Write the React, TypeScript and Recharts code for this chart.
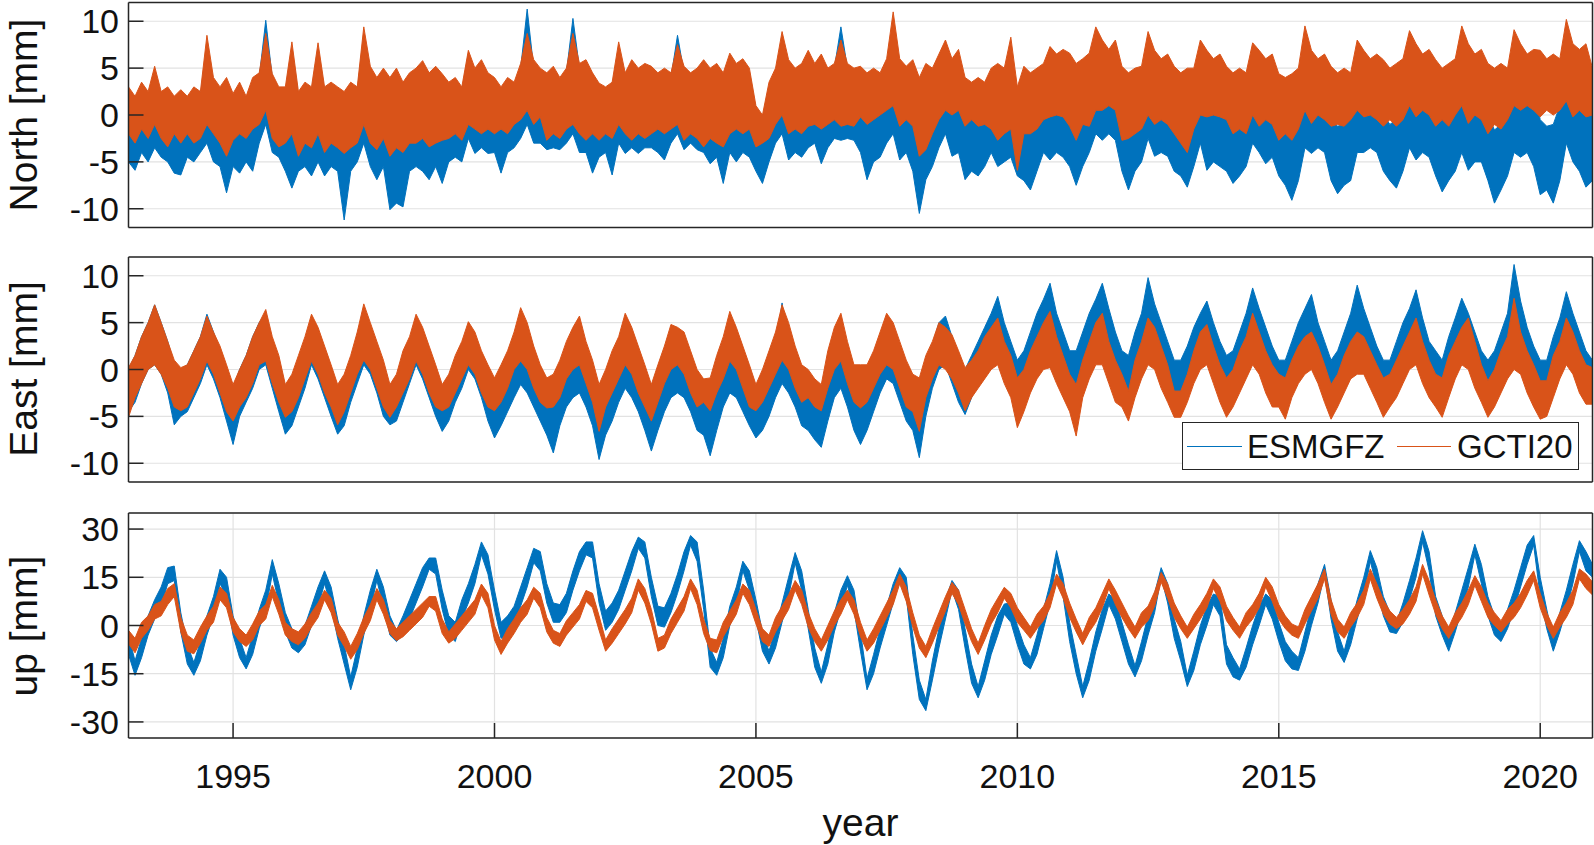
import React from 'react';
import { ComposedChart, Area, XAxis, YAxis, CartesianGrid } from 'recharts';

// ---------- data: upper / lower edge of each noisy daily band, read every 1/8 year, 1993.0 .. 2021.0 ----------
const START_YEAR = 1993;
const STEP = 1 / 8;

const xTicks = [1995, 2000, 2005, 2010, 2015, 2020];
const northTicks = [-10, -5, 0, 5, 10];
const eastTicks = [-10, -5, 0, 5, 10];
const upTicks = [-30, -15, 0, 15, 30];

const seriesNames = ['ESMGFZ', 'GCTI20'];

// ---- North ----
const northGCTI20Hi = [
  3.0, 2.0, 3.5, 2.5, 5.2, 2.5, 3.0, 2.0,
  2.7, 2.0, 3.0, 2.5, 8.5, 4.0, 3.0, 4.0,
  2.3, 3.5, 2.0, 4.0, 4.5, 8.7, 4.4, 3.0,
  3.0, 7.8, 2.5, 3.5, 3.0, 7.7, 3.0, 3.5,
  3.0, 2.5, 3.5, 3.0, 9.4, 5.2, 4.0, 5.0,
  4.0, 5.0, 3.5, 4.5, 5.0, 5.8, 4.5, 5.2,
  4.4, 3.5, 4.0, 3.0, 6.9, 5.0, 5.9, 4.5,
  4.0, 3.0, 4.0, 3.5, 5.5, 8.7, 5.9, 5.0,
  4.5, 5.2, 4.0, 5.0, 8.7, 5.5, 5.9, 4.5,
  3.4, 3.0, 3.5, 7.8, 4.5, 5.9, 5.0, 5.5,
  5.2, 4.5, 5.0, 4.5, 7.5, 5.2, 4.5, 5.0,
  5.9, 5.0, 5.5, 4.5, 6.6, 5.5, 6.0, 5.0,
  1.0, 0.0, 3.5, 5.0, 8.9, 5.9, 5.0, 5.5,
  6.9, 5.5, 6.5, 5.0, 5.5, 8.0, 5.5, 5.0,
  5.2, 4.5, 5.0, 4.5, 6.0, 11.0, 6.0, 5.2,
  5.9, 4.0, 5.5, 5.0, 6.5, 8.0, 6.0, 7.0,
  4.0, 3.5, 4.0, 3.5, 5.0, 5.5, 5.0, 8.3,
  3.0, 5.2, 4.5, 5.0, 5.5, 7.3, 6.5, 7.0,
  6.6, 5.5, 6.0, 6.6, 9.4, 8.0, 7.0, 8.0,
  5.2, 4.5, 5.0, 5.2, 8.9, 6.9, 6.0, 6.5,
  5.2, 4.5, 5.0, 5.0, 8.0, 6.9, 6.0, 6.5,
  5.2, 4.5, 5.0, 4.5, 7.7, 6.9, 6.0, 6.5,
  4.4, 4.0, 4.4, 5.0, 9.5, 6.9, 6.0, 6.5,
  5.2, 4.5, 5.0, 4.5, 8.0, 6.9, 6.0, 6.5,
  5.9, 5.0, 5.5, 6.0, 9.0, 7.6, 6.5, 7.0,
  5.9, 5.0, 5.5, 6.0, 9.5, 7.6, 6.5, 7.0,
  5.5, 5.0, 5.5, 5.0, 9.1, 7.6, 6.5, 7.0,
  6.9, 6.0, 6.5, 6.0, 10.2, 7.6, 7.0, 7.6,
  5.0,
];
const northGCTI20Lo = [
  -2.0, -3.0, -1.5, -2.5, -1.0, -2.5, -3.4, -2.0,
  -3.0, -2.0, -3.0, -2.5, -1.0, -2.0, -3.0, -4.4,
  -2.7, -2.0, -2.5, -1.5, -1.0, 0.5, -2.5, -3.4,
  -3.0, -2.0, -4.4, -3.0, -3.5, -2.0, -4.0, -3.0,
  -3.5, -4.1, -3.5, -3.0, -1.0, -3.0, -3.7, -2.5,
  -4.4, -3.5, -4.0, -3.0, -3.0, -2.5, -3.4, -3.0,
  -2.7, -2.5, -2.0, -2.7, -1.0, -1.5, -2.0, -1.5,
  -2.0, -1.5, -2.0, -1.0, -0.5, 0.5, -1.0, -0.2,
  -2.7, -2.0, -2.5, -1.5, -1.0, -2.0, -2.7, -2.0,
  -2.7, -2.0, -2.5, -1.0, -2.0, -2.7, -2.0, -2.5,
  -2.0, -1.5, -2.0, -1.5, -1.0, -2.7, -2.0, -2.5,
  -3.4, -2.5, -3.0, -3.4, -2.0, -1.5, -2.0, -1.5,
  -3.4, -3.0, -2.5, -1.0, 0.0, -2.0, -1.5, -2.0,
  -1.2, -1.0, -1.5, -1.0, -0.5, -1.2, -1.0, -1.2,
  -0.2, -1.0, -0.5, 0.0, 0.5, 1.0, -1.2, -0.5,
  -1.2, -4.4, -3.7, -2.0, -0.5, 0.5, 0.0, 0.5,
  -1.2, -0.5, -1.2, -1.0, -1.5, -2.7, -2.0, -1.5,
  -5.9, -2.0, -2.0, -1.5, -0.5, -0.2, 0.0, -0.2,
  -1.2, -2.7, -1.0, -1.2, 0.5, 0.5, 1.0, 0.5,
  -2.7, -2.5, -2.0, -1.5, 0.0, -1.0, -0.5, -1.0,
  -2.0, -3.0, -4.0, -1.5, 0.0, -0.2, 0.0, -0.2,
  -0.5, -2.0, -1.5, -2.0, 0.0, -1.2, -0.5, -1.0,
  -2.7, -2.0, -2.7, -1.5, 0.5, -0.9, 0.0, -0.5,
  -1.2, -1.0, -1.2, -0.5, 0.5, -0.2, 0.0, -0.5,
  -1.2, -0.5, -1.2, -0.5, 1.0, -0.2, 0.5, 0.0,
  -1.2, -0.5, -1.2, 0.0, 1.0, -0.9, 0.0, -0.5,
  -2.0, -1.0, -1.5, -0.5, 1.0, 0.5, 1.0, 0.5,
  -0.2, 0.5, 0.0, 0.5, 1.5, -0.2, 0.5, -0.2,
  0.0,
];
const northESMGFZHi = [
  2.5, 1.5, 3.0, 2.0, 4.5, 2.0, 2.5, 1.5,
  2.0, 1.5, 2.5, 2.0, 7.3, 3.5, 2.5, 3.0,
  2.0, 3.0, 1.5, 3.5, 4.0, 10.1, 4.0, 2.5,
  2.5, 7.0, 2.0, 3.0, 2.5, 7.0, 2.5, 3.0,
  2.5, 2.0, 3.0, 2.5, 8.5, 4.5, 3.5, 4.5,
  3.5, 4.5, 3.0, 4.0, 4.5, 5.0, 4.0, 4.5,
  4.0, 3.0, 3.5, 2.5, 6.5, 4.5, 5.5, 4.0,
  3.5, 2.5, 3.5, 3.0, 5.0, 11.3, 5.0, 4.5,
  4.0, 4.5, 3.5, 4.5, 10.3, 5.0, 5.0, 4.0,
  3.0, 2.5, 3.0, 7.0, 4.0, 5.0, 4.5, 5.0,
  4.5, 4.0, 4.5, 4.0, 8.5, 4.5, 4.0, 4.5,
  5.0, 4.5, 5.0, 4.0, 6.0, 5.0, 5.5, 4.5,
  0.5, -0.5, 3.0, 4.5, 8.0, 5.0, 4.5, 5.0,
  6.0, 5.0, 6.0, 4.5, 5.0, 9.4, 5.0, 4.5,
  3.0, 1.5, 2.0, 2.5, 4.0, 5.5, 3.0, 1.6,
  1.0, -0.2, 0.0, 1.5, 3.0, 4.6, 3.0, 2.5,
  0.5, -0.2, 0.0, -0.5, 1.5, 2.3, 2.0, 3.5,
  -1.0, -1.2, -0.5, 0.5, 2.5, 3.7, 3.0, 3.0,
  0.0, 0.5, 1.0, 2.0, 6.2, 6.0, 5.0, 4.5,
  1.0, 0.0, 0.5, 2.0, 5.2, 2.3, 2.0, 2.0,
  0.5, 0.0, 0.5, 1.5, 5.0, 3.4, 3.0, 3.0,
  0.5, 0.0, 0.5, 1.0, 3.7, 3.4, 2.5, 2.0,
  -1.0, -1.6, -1.0, 0.5, 4.0, 4.1, 3.0, 2.5,
  -0.5, -1.2, -1.0, 0.5, 4.1, 4.0, 3.0, 2.5,
  0.0, -1.0, -0.5, 1.0, 3.9, 3.9, 3.0, 2.5,
  0.5, -0.5, 0.0, 1.5, 4.5, 4.0, 3.0, 2.5,
  0.0, -1.6, -1.0, 1.0, 4.8, 4.8, 3.5, 3.0,
  -0.5, -1.2, -1.0, 1.0, 6.6, 4.0, 3.0, 2.5,
  1.0,
];
const northESMGFZLo = [
  -5.0, -5.9, -4.0, -5.0, -3.5, -4.5, -5.0, -6.2,
  -6.4, -4.5, -5.0, -4.0, -3.0, -5.0, -5.5, -8.3,
  -5.5, -6.2, -5.0, -6.0, -3.0, -1.0, -4.0, -4.5,
  -6.0, -7.8, -6.0, -5.5, -6.5, -5.0, -6.5, -5.5,
  -6.0, -11.2, -6.0, -5.0, -3.0, -5.5, -6.9, -5.5,
  -10.1, -9.4, -9.8, -6.0, -5.5, -6.0, -6.9, -5.5,
  -7.3, -5.0, -4.5, -5.0, -2.5, -4.1, -3.5, -4.1,
  -4.0, -6.2, -4.0, -3.5, -2.5, -1.0, -3.0, -3.0,
  -3.7, -3.5, -3.7, -3.0, -2.0, -4.0, -4.0, -6.2,
  -4.5, -4.0, -6.4, -3.0, -4.1, -3.5, -4.1, -3.5,
  -3.5, -4.0, -4.8, -3.0, -2.0, -3.7, -3.0, -3.7,
  -4.0, -5.2, -4.5, -7.3, -4.0, -5.0, -4.0, -4.5,
  -6.0, -7.3, -5.0, -3.0, -2.0, -4.8, -4.0, -4.5,
  -3.5, -3.0, -5.2, -3.5, -2.5, -2.7, -2.5, -2.7,
  -4.0, -6.9, -5.0, -4.5, -3.0, -2.0, -4.8, -4.0,
  -6.0, -10.5, -6.9, -5.5, -3.5, -2.0, -4.4, -4.0,
  -6.9, -6.0, -6.5, -5.5, -4.0, -5.5, -5.0, -4.5,
  -6.5, -7.0, -8.0, -6.0, -4.0, -4.8, -4.0, -4.5,
  -5.5, -7.5, -5.5, -4.0, -2.0, -2.7, -2.0, -2.7,
  -6.0, -8.0, -6.0, -5.0, -2.5, -4.4, -4.0, -4.4,
  -6.0, -6.5, -7.7, -5.5, -3.0, -5.9, -5.0, -5.5,
  -6.0, -7.3, -6.5, -5.5, -3.0, -4.0, -5.2, -4.5,
  -6.5, -7.5, -9.1, -7.0, -3.5, -4.1, -3.5, -4.0,
  -7.0, -8.4, -7.5, -7.0, -4.0, -4.0, -3.5, -4.0,
  -6.0, -7.0, -7.8, -6.0, -3.5, -4.8, -4.0, -4.5,
  -6.5, -8.2, -7.0, -6.0, -4.0, -5.9, -5.0, -5.0,
  -7.0, -9.4, -8.0, -6.5, -4.0, -4.5, -4.0, -5.5,
  -8.5, -8.0, -9.4, -7.0, -3.0, -5.0, -6.0, -7.7,
  -7.0,
];

// ---- East ----
const eastGCTI20Hi = [
  0.2, 1.5, 3.5, 5.0, 6.9, 5.0, 3.0, 1.0,
  0.2, 0.5, 2.0, 3.5, 5.7, 4.0, 2.5, 0.5,
  -1.6, 0.0, 1.5, 3.5, 5.0, 6.4, 3.5, 1.5,
  -1.6, -0.5, 1.5, 3.5, 5.9, 4.5, 2.5, 0.5,
  -1.6, -0.5, 1.5, 4.0, 7.0, 5.0, 3.0, 1.0,
  -1.6, -0.5, 2.0, 3.5, 5.9, 4.5, 2.5, 0.5,
  -1.6, -0.5, 1.5, 3.0, 5.1, 4.0, 2.0, 0.5,
  -0.9, 0.5, 2.0, 4.0, 6.6, 5.0, 2.5, 0.5,
  -0.9, -0.5, 1.0, 3.0, 4.5, 5.7, 3.0, 1.0,
  -1.6, 0.0, 2.0, 3.5, 6.0, 4.5, 2.5, 0.5,
  -1.6, 0.5, 2.5, 4.8, 4.5, 4.0, 2.0, 0.0,
  -1.0, -0.9, 1.5, 3.5, 6.2, 4.5, 2.5, 0.5,
  -1.6, 0.0, 2.0, 4.0, 6.9, 5.0, 2.5, 0.5,
  0.0, -1.0, -1.6, 2.0, 4.5, 6.0, 3.0, 0.5,
  0.5, 0.5, 2.0, 4.0, 6.0, 5.0, 3.0, 1.0,
  -0.5, -0.9, 1.5, 3.0, 5.0, 4.5, 3.7, 2.0,
  0.2, 1.0, 2.0, 3.5, 4.5, 5.5, 3.0, 1.5,
  -0.9, 0.0, 2.0, 3.5, 5.0, 6.2, 3.5, 1.5,
  -0.5, -1.6, 1.0, 3.0, 5.0, 6.0, 3.0, 1.0,
  -0.5, -2.3, 1.0, 3.0, 5.5, 4.5, 2.5, 0.5,
  -2.3, -2.3, -0.5, 2.0, 4.0, 4.8, 2.5, 0.5,
  -0.9, 0.0, 2.0, 3.5, 6.0, 4.0, 2.0, 0.5,
  -0.5, -0.9, 1.0, 2.5, 3.5, 4.0, 2.5, 0.5,
  -1.6, -0.5, 1.5, 3.0, 4.0, 3.5, 2.0, 0.5,
  -0.9, -0.5, 1.0, 2.5, 4.0, 5.5, 3.0, 1.0,
  -0.5, -0.9, 1.5, 3.0, 4.5, 5.5, 3.0, 0.5,
  -1.2, 0.0, 2.0, 3.5, 7.6, 4.0, 2.0, 0.5,
  -1.2, -1.2, 1.5, 3.0, 5.5, 4.0, 2.0, 0.5,
  0.2,
];
const eastGCTI20Lo = [
  -5.1, -3.0, -1.5, 0.0, 0.5, -0.5, -2.0, -4.0,
  -4.4, -4.0, -2.5, -1.0, 0.9, -0.5, -2.5, -4.5,
  -5.5, -4.0, -3.0, -1.5, 0.5, 0.9, -1.5, -3.5,
  -5.1, -4.5, -3.0, -1.0, 0.9, -0.5, -2.5, -4.0,
  -5.9, -4.5, -2.5, -0.5, 1.0, 0.0, -2.0, -4.0,
  -5.1, -4.0, -2.5, -1.0, 0.9, -0.5, -2.5, -4.0,
  -4.4, -4.0, -2.5, -1.0, 0.5, -0.5, -2.5, -4.0,
  -4.4, -3.5, -2.0, 0.0, 0.9, 0.0, -2.0, -3.5,
  -4.1, -4.0, -3.0, -1.0, 0.0, 0.5, -1.5, -3.5,
  -6.6, -4.0, -2.5, -1.0, 0.5, -0.5, -2.5, -4.0,
  -5.5, -3.5, -1.5, 0.0, 0.5, -0.5, -2.5, -4.0,
  -3.5, -4.4, -2.5, -1.0, 0.9, 0.0, -2.0, -4.0,
  -4.4, -3.5, -2.0, -0.5, 1.0, 0.0, -2.0, -3.5,
  -3.0, -4.0, -4.4, -2.0, 0.0, 0.9, -1.5, -3.5,
  -4.1, -3.5, -2.0, -0.5, 0.5, 0.0, -2.0, -4.0,
  -4.5, -6.6, -3.0, -1.0, 0.5, 0.0, -1.0, -2.5,
  -4.4, -3.0, -2.0, -1.0, 0.0, 0.5, -1.5, -3.0,
  -6.2, -4.5, -2.5, -1.0, 0.0, 0.2, -1.5, -3.0,
  -4.5, -7.1, -3.0, -1.0, 0.5, 0.5, -1.5, -3.5,
  -4.0, -5.5, -3.0, -1.0, 0.5, 0.0, -2.0, -3.5,
  -5.1, -5.1, -3.5, -1.5, 0.0, 0.5, -1.5, -3.5,
  -5.1, -4.0, -2.5, -1.0, 0.5, -0.5, -2.5, -4.0,
  -4.0, -5.3, -3.0, -1.5, -0.5, 0.0, -1.5, -3.5,
  -5.3, -4.0, -2.5, -1.0, -0.5, -0.5, -2.0, -3.5,
  -5.1, -4.0, -3.0, -1.5, 0.0, 0.5, -1.5, -3.0,
  -4.0, -5.1, -3.0, -1.0, 0.5, 0.0, -2.0, -3.5,
  -5.1, -4.0, -2.5, -1.0, 0.0, -0.5, -2.5, -4.0,
  -5.3, -5.0, -3.0, -1.0, 0.5, -0.5, -2.5, -3.7,
  -3.7,
];
const eastESMGFZHi = [
  0.0, 1.5, 3.5, 5.0, 6.9, 5.0, 3.0, 0.5,
  0.0, 0.5, 2.0, 3.5, 5.9, 4.0, 2.0, 0.0,
  -2.0, 0.0, 1.5, 3.5, 5.0, 6.0, 3.0, 1.0,
  -2.0, -1.0, 1.0, 3.0, 5.5, 4.0, 2.0, 0.0,
  -2.0, -1.0, 1.0, 3.5, 6.5, 4.5, 2.5, 0.5,
  -2.0, -1.0, 1.5, 3.0, 5.5, 4.0, 2.0, 0.0,
  -2.0, -1.0, 1.0, 2.5, 4.5, 3.5, 1.5, 0.0,
  -2.0, -1.0, 0.5, 1.5, 2.3, 1.5, 0.0, -1.5,
  -2.5, -3.0, -1.0, 0.0, 0.5, 0.9, 0.0, -1.5,
  -3.0, -2.0, -0.5, 1.0, 2.0, 1.0, -0.5, -2.0,
  -3.0, -1.5, 0.0, 1.5, 1.5, 1.0, -0.5, -2.0,
  -2.5, -3.0, -1.0, 0.5, 0.9, 0.5, -0.5, -2.0,
  -2.5, -1.5, 0.0, 2.0, 7.1, 2.0, 0.5, -1.5,
  -1.5, -2.5, -3.0, -0.5, 1.5, 3.0, 1.0, -1.5,
  -2.5, -1.0, 0.5, 2.0, 3.5, 3.0, 1.0, -1.0,
  -1.5, -2.5, 0.5, 2.5, 5.0, 5.7, 3.5, 1.0,
  0.0, 1.5, 3.0, 4.5, 6.0, 7.8, 5.0, 3.0,
  1.0, 2.0, 4.0, 6.0, 7.5, 9.2, 6.0, 4.0,
  2.0, 2.0, 4.0, 6.0, 7.5, 9.2, 6.5, 4.0,
  2.0, 1.5, 4.0, 6.0, 9.8, 7.0, 5.0, 3.0,
  1.0, 1.0, 2.5, 4.5, 6.0, 7.3, 5.0, 3.0,
  1.5, 2.0, 4.0, 6.0, 8.7, 6.5, 4.5, 2.5,
  1.0, 1.0, 3.0, 5.0, 6.5, 8.0, 5.0, 3.0,
  1.0, 2.0, 4.0, 6.0, 9.0, 6.5, 4.5, 2.5,
  1.0, 1.0, 3.0, 5.0, 6.5, 8.5, 5.5, 3.0,
  2.0, 1.0, 3.5, 5.5, 7.6, 6.0, 4.0, 2.0,
  1.0, 2.0, 4.0, 6.0, 11.2, 7.3, 4.5, 2.5,
  1.0, 1.0, 3.5, 5.5, 8.3, 6.0, 4.0, 2.0,
  1.0,
];
const eastESMGFZLo = [
  -4.5, -3.5, -1.5, 0.0, 0.5, -0.5, -2.5, -5.9,
  -5.0, -4.5, -3.0, -1.5, 0.5, -1.0, -3.0, -5.5,
  -8.0, -5.0, -3.5, -2.0, 0.0, 0.5, -2.0, -4.5,
  -6.9, -6.0, -4.0, -2.0, 0.5, -1.0, -3.0, -5.0,
  -6.9, -6.0, -3.5, -1.5, 0.5, -0.5, -2.5, -5.0,
  -5.9, -5.5, -3.5, -1.5, 0.5, -1.0, -3.0, -5.0,
  -6.6, -5.5, -3.5, -2.0, 0.0, -1.0, -3.0, -5.5,
  -7.3, -6.0, -4.5, -3.0, -1.6, -2.5, -4.0, -5.5,
  -7.0, -8.9, -6.0, -4.0, -3.0, -2.5, -4.0, -6.0,
  -9.6, -7.0, -5.5, -3.5, -2.0, -3.0, -4.5, -6.5,
  -8.7, -6.5, -4.5, -3.0, -2.5, -3.0, -4.5, -6.5,
  -7.0, -9.2, -6.5, -4.0, -2.5, -3.0, -4.5, -6.0,
  -7.3, -6.5, -5.0, -3.0, -1.5, -2.5, -4.0, -6.0,
  -6.5, -7.5, -8.3, -5.5, -3.0, -2.0, -4.0, -6.5,
  -8.0, -6.5, -4.5, -2.5, -1.0, -1.5, -3.5, -5.5,
  -6.5, -9.4, -5.0, -2.0, 0.0, 0.5, -1.5, -3.5,
  -4.8, -3.0, -1.5, 0.0, 1.5, 2.0, 0.0, -2.0,
  -3.7, -2.5, -1.0, 1.0, 2.0, 2.5, 0.5, -1.0,
  -1.5, -1.6, -0.5, 1.0, 2.5, 2.5, 1.0, -1.0,
  -1.5, -2.7, -0.5, 1.0, 2.5, 2.0, 0.5, -1.0,
  -2.3, -2.3, -1.5, 0.0, 1.5, 2.0, 0.5, -1.0,
  -1.6, -1.0, 0.0, 1.5, 2.5, 1.5, 0.0, -1.5,
  -2.0, -2.3, -1.0, 0.5, 2.0, 2.0, 0.5, -1.0,
  -2.3, -1.5, 0.0, 1.5, 2.5, 1.5, 0.0, -1.5,
  -2.3, -2.0, -1.0, 0.5, 1.5, 2.0, 1.0, -1.0,
  -1.0, -1.6, -0.5, 1.0, 2.0, 1.5, 0.0, -1.5,
  -2.3, -1.5, 0.0, 1.0, 1.5, 0.9, -0.5, -1.5,
  -2.7, -2.5, -1.0, 1.0, 2.0, 1.0, -0.5, -2.0,
  -2.5,
];

// ---- up ----
const upGCTI20Hi = [
  -1.5, -4.0, 1.0, 3.0, 6.5, 7.5, 11.5, 13.0,
  2.5, -3.0, -4.5, -0.5, 3.0, 6.0, 12.0, 10.0,
  2.5, -1.0, -3.0, 0.5, 4.5, 6.5, 12.5, 8.0,
  1.0, -1.0, -2.0, 0.5, 4.0, 7.0, 11.0, 8.5,
  1.0, -2.0, -6.5, -2.5, 2.5, 6.5, 11.5, 8.0,
  1.5, -1.0, 1.0, 3.0, 5.0, 7.0, 9.0, 9.0,
  2.0, -2.0, 0.5, 3.0, 5.5, 8.0, 12.9, 10.0,
  0.0, -5.0, -1.0, 2.0, 5.5, 8.0, 11.9, 10.0,
  2.5, -1.5, -2.5, 1.5, 4.0, 6.5, 10.9, 10.0,
  3.0, -4.5, -1.0, 2.0, 5.0, 8.5, 14.5, 11.5,
  5.0, -4.0, -3.0, 2.0, 5.5, 9.0, 14.5, 11.0,
  2.0, -4.0, -4.5, 1.0, 4.5, 8.0, 12.9, 11.0,
  5.0, -1.0, -3.0, 2.5, 6.0, 9.5, 14.0, 11.0,
  4.0, -1.0, -4.5, 0.0, 4.5, 8.0, 11.0, 8.0,
  1.0, -4.5, -1.0, 3.0, 7.0, 11.0, 16.0, 12.0,
  4.0, -3.0, -6.5, -1.0, 4.0, 9.0, 13.4, 11.0,
  5.0, -1.0, -5.5, 0.0, 5.0, 8.5, 11.9, 10.0,
  5.5, 2.5, -0.5, 3.5, 6.0, 10.0, 16.0, 13.0,
  7.0, 2.0, -2.5, 2.5, 5.5, 10.0, 14.5, 11.0,
  7.0, 3.0, -0.5, 4.0, 6.0, 10.5, 16.5, 13.0,
  7.0, 3.0, -0.5, 3.5, 6.5, 10.0, 14.5, 12.0,
  6.0, 2.5, -0.5, 4.0, 6.5, 10.0, 15.0, 12.0,
  6.5, 3.0, 0.5, -0.5, 5.0, 9.0, 13.0, 17.6,
  8.0, 2.0, -0.5, 4.0, 7.0, 11.0, 17.6, 13.0,
  8.0, 4.5, 2.5, 5.0, 8.0, 12.0, 19.0, 14.0,
  8.0, 3.0, -0.5, 4.0, 7.0, 11.0, 15.5, 12.0,
  7.0, 4.0, 1.5, 5.0, 7.0, 10.0, 14.0, 17.0,
  10.0, 4.0, -0.5, 4.0, 7.0, 11.0, 17.6, 16.0,
  13.5,
];
const upGCTI20Lo = [
  -5.7, -8.5, -4.0, -1.5, 2.0, 3.0, 6.5, 9.0,
  -2.0, -8.0, -8.8, -5.5, -1.5, 1.0, 8.0, 5.5,
  -2.0, -5.0, -6.5, -4.5, 0.0, 2.0, 9.0, 3.5,
  -3.0, -5.0, -6.0, -4.0, -0.5, 2.5, 8.0, 4.0,
  -3.0, -6.5, -10.5, -7.5, -2.5, 1.5, 8.0, 3.5,
  -2.5, -4.7, -3.5, -1.5, 0.5, 2.5, 6.0, 4.5,
  -2.5, -5.5, -4.0, -1.5, 1.0, 3.5, 9.5, 5.5,
  -4.5, -9.0, -5.5, -2.5, 1.0, 3.5, 8.5, 5.5,
  -2.0, -5.5, -6.5, -3.0, -0.5, 2.0, 7.5, 5.5,
  -1.5, -8.0, -5.5, -2.5, 0.5, 4.0, 11.0, 7.0,
  0.5, -8.0, -7.0, -2.5, 1.0, 4.5, 11.5, 6.5,
  -2.5, -7.8, -8.5, -3.5, 0.0, 3.5, 10.0, 6.5,
  0.5, -5.0, -6.5, -2.0, 1.5, 5.0, 11.0, 6.5,
  -0.5, -5.0, -8.0, -4.5, 0.0, 3.5, 8.0, 3.5,
  -3.5, -8.0, -5.5, -1.5, 2.5, 6.5, 13.0, 7.5,
  -0.5, -7.0, -10.0, -5.5, -0.5, 4.5, 10.0, 6.5,
  0.5, -5.0, -9.0, -4.5, 0.5, 4.0, 8.5, 5.5,
  1.0, -1.5, -4.0, -1.0, 1.5, 5.5, 13.0, 8.5,
  2.5, -2.0, -6.0, -2.0, 1.0, 5.5, 11.5, 6.5,
  2.5, -1.0, -4.0, -0.5, 1.5, 6.0, 13.5, 8.5,
  2.5, -1.0, -4.0, -1.0, 2.0, 5.5, 11.5, 7.5,
  1.5, -1.5, -4.0, -0.5, 2.0, 5.5, 12.0, 7.5,
  2.0, -1.0, -3.0, -4.0, 0.5, 4.5, 8.5, 14.5,
  3.5, -2.0, -4.0, -0.5, 2.5, 6.5, 14.5, 8.5,
  3.5, 0.5, -1.0, 0.5, 3.5, 7.5, 16.0, 9.5,
  3.5, -1.0, -4.0, -0.5, 2.5, 6.5, 12.5, 7.5,
  2.5, 0.0, -2.0, 0.5, 2.5, 5.5, 9.5, 14.0,
  5.5, 0.0, -4.0, -0.5, 2.5, 6.5, 14.5, 11.5,
  9.5,
];
const upESMGFZHi = [
  -3.0, -11.0, -4.0, 3.0, 8.0, 12.0, 18.0, 18.5,
  4.0, -6.0, -11.5, -5.0, 3.0, 9.0, 17.5, 15.0,
  3.0, -4.0, -10.0, -3.0, 5.0, 11.0, 20.5, 13.0,
  4.0, -1.0, -4.5, 0.0, 6.0, 12.0, 17.0, 12.0,
  2.0, -6.0, -16.0, -7.0, 3.0, 11.0, 17.5, 12.0,
  3.0, -1.5, 3.0, 8.0, 13.0, 18.0, 21.0, 21.0,
  11.0, 3.0, 1.0, 8.0, 13.0, 19.0, 26.0, 22.0,
  11.0, 1.0, 3.0, 6.0, 12.0, 18.0, 24.0, 23.0,
  13.0, 7.0, 6.5, 10.0, 17.0, 23.0, 26.0, 26.0,
  13.0, 4.5, 7.0, 11.0, 17.0, 23.0, 27.5, 26.0,
  15.0, 6.0, 5.5, 10.0, 16.0, 23.0, 28.0, 26.0,
  11.0, -7.0, -11.5, -4.0, 6.0, 12.0, 20.0, 17.0,
  8.0, -2.0, -8.0, -1.0, 7.0, 15.0, 22.7, 17.0,
  5.0, -7.0, -14.5, -6.0, 4.0, 11.0, 15.5, 11.0,
  -2.0, -16.5, -9.0, -1.0, 6.0, 13.0, 18.0, 15.0,
  -3.0, -17.0, -23.0, -11.0, -1.0, 8.0, 14.0, 11.0,
  -1.0, -12.0, -19.0, -11.0, -3.0, 3.0, 6.7, 7.0,
  0.0, -6.0, -10.0, -3.0, 5.0, 13.0, 23.3, 15.0,
  1.0, -9.0, -19.0, -11.0, -2.0, 5.0, 9.8, 8.0,
  1.0, -6.0, -12.5, -5.0, 3.0, 10.0, 18.0, 13.0,
  2.0, -5.0, -15.5, -8.0, 0.0, 6.0, 9.8, 9.0,
  -6.0, -10.0, -13.5, -7.0, 0.0, 6.0, 9.8, 8.0,
  1.0, -5.0, -8.0, -10.0, -2.0, 6.0, 13.0, 19.0,
  8.0, -2.0, -8.0, 0.0, 8.0, 15.0, 23.3, 18.0,
  9.0, 4.0, 1.0, 7.0, 14.0, 21.0, 29.5, 23.0,
  9.0, 3.0, -4.5, 4.0, 11.0, 18.0, 25.3, 19.0,
  9.0, 3.0, -1.5, 5.0, 11.0, 18.0, 25.0, 28.0,
  15.0, 5.0, -4.5, 4.0, 11.0, 19.0, 26.4, 23.0,
  19.0,
];
const upESMGFZLo = [
  -9.0, -15.5, -10.0, -3.0, 2.0, 6.0, 13.0, 14.0,
  -2.0, -12.0, -15.5, -11.0, -3.0, 3.0, 13.0, 9.0,
  -3.0, -10.0, -13.5, -9.0, -1.0, 5.0, 16.0, 7.0,
  -2.0, -7.0, -8.5, -6.0, 0.0, 6.0, 13.0, 6.0,
  -4.0, -12.0, -20.0, -13.0, -3.0, 5.0, 14.0, 6.0,
  -3.0, -5.0, -3.0, 2.0, 7.0, 12.0, 17.5, 16.0,
  5.0, -3.0, -5.0, 2.0, 7.0, 13.0, 22.0, 16.0,
  5.0, -4.0, -3.0, 0.0, 6.0, 12.0, 19.5, 17.0,
  7.0, 1.0, 1.0, 4.0, 11.0, 17.0, 22.0, 21.0,
  7.0, -1.5, 1.0, 5.0, 11.0, 17.0, 24.0, 21.0,
  9.0, 0.0, -0.5, 4.0, 10.0, 17.0, 25.0, 20.0,
  5.0, -13.0, -15.5, -10.0, 0.0, 6.0, 17.0, 11.0,
  2.0, -8.0, -12.0, -7.0, 1.0, 9.0, 19.5, 11.0,
  -1.0, -13.0, -18.0, -12.0, -2.0, 5.0, 12.5, 5.0,
  -8.0, -20.0, -15.0, -7.0, 0.0, 7.0, 15.0, 9.0,
  -9.0, -23.0, -26.5, -17.0, -7.0, 2.0, 11.0, 5.0,
  -7.0, -18.0, -22.5, -17.0, -9.0, -3.0, 3.5, 1.0,
  -6.0, -12.0, -13.5, -9.0, -1.0, 7.0, 20.0, 9.0,
  -5.0, -15.0, -22.5, -17.0, -8.0, -1.0, 6.5, 2.0,
  -5.0, -12.0, -16.0, -11.0, -3.0, 4.0, 15.0, 7.0,
  -4.0, -11.0, -19.0, -14.0, -6.0, 0.0, 6.5, 3.0,
  -12.0, -16.0, -17.0, -13.0, -6.0, 0.0, 6.5, 2.0,
  -5.0, -11.0, -13.5, -14.0, -8.0, 0.0, 7.0, 16.0,
  2.0, -8.0, -11.5, -6.0, 2.0, 9.0, 20.0, 12.0,
  3.0, -2.0, -2.5, 1.0, 8.0, 15.0, 26.0, 17.0,
  3.0, -3.0, -8.0, -2.0, 5.0, 12.0, 22.0, 13.0,
  3.0, -3.0, -5.0, -1.0, 5.0, 12.0, 19.0, 25.0,
  9.0, -1.0, -8.0, -2.0, 5.0, 13.0, 23.0, 17.0,
  15.0,
];

// ---------- styling ----------
const FONT = "'Liberation Sans', Arial, Helvetica, sans-serif";
const BLUE = '#0072BD';
const ORANGE = '#D95319';
const AXIS = '#262626';
const GRID = '#e2e2e2';
const W = 1594;
const TICK_LEN = -15;

type Row = { t: number; esm: [number, number]; gct: [number, number] };

function buildRows(esmHi: number[], esmLo: number[], gctHi: number[], gctLo: number[]): Row[] {
  return esmHi.map((h, i) => ({
    t: START_YEAR + i * STEP,
    esm: [esmLo[i], h] as [number, number],
    gct: [gctLo[i], gctHi[i]] as [number, number],
  }));
}

const northRows = buildRows(northESMGFZHi, northESMGFZLo, northGCTI20Hi, northGCTI20Lo);
const eastRows = buildRows(eastESMGFZHi, eastESMGFZLo, eastGCTI20Hi, eastGCTI20Lo);
const upRows = buildRows(upESMGFZHi, upESMGFZLo, upGCTI20Hi, upGCTI20Lo);

type PanelProps = {
  rows: Row[];
  yDomain: [number, number];
  yTicks: number[];
  showX: boolean;
  height: number;
  marginTop: number;
  marginBottom: number;
};

function Panel({ rows, yDomain, yTicks, showX, height, marginTop, marginBottom }: PanelProps) {
  const axisLine = { stroke: AXIS, strokeWidth: 1.5 };
  const tickLine = { stroke: AXIS, strokeWidth: 1.5 };
  const tickText = { fill: '#111', fontSize: 34, fontFamily: FONT };
  // plot area: x 128.5 .. 1592.5 ; axes are 1px thick, margins compensate
  return (
    <ComposedChart
      width={W}
      height={height}
      data={rows}
      margin={{ top: marginTop - 1, right: 0.5, bottom: marginBottom - 1, left: 127.5 }}
    >
      <CartesianGrid stroke={GRID} strokeWidth={1.2} xAxisId={0} yAxisId={0} />
      <XAxis
        xAxisId={0}
        dataKey="t"
        type="number"
        domain={[1993, 2021]}
        allowDataOverflow
        ticks={xTicks}
        interval={0}
        height={1}
        tickSize={TICK_LEN}
        tickMargin={41}
        axisLine={axisLine}
        tickLine={tickLine}
        tick={showX ? tickText : false}
      />
      <XAxis
        xAxisId="top"
        orientation="top"
        dataKey="t"
        type="number"
        domain={[1993, 2021]}
        allowDataOverflow
        ticks={xTicks}
        interval={0}
        height={1}
        tickSize={TICK_LEN}
        axisLine={axisLine}
        tickLine={tickLine}
        tick={false}
      />
      <YAxis
        yAxisId={0}
        type="number"
        domain={yDomain}
        allowDataOverflow
        ticks={yTicks}
        interval={0}
        width={1}
        tickSize={TICK_LEN}
        tickMargin={24.5}
        axisLine={axisLine}
        tickLine={tickLine}
        tick={tickText}
      />
      <YAxis
        yAxisId="right"
        orientation="right"
        type="number"
        domain={yDomain}
        allowDataOverflow
        ticks={yTicks}
        interval={0}
        width={1}
        tickSize={TICK_LEN}
        axisLine={axisLine}
        tickLine={tickLine}
        tick={false}
      />
      <Area
        xAxisId={0}
        yAxisId={0}
        type="linear"
        dataKey="esm"
        name={seriesNames[0]}
        stroke={BLUE}
        strokeWidth={1}
        fill={BLUE}
        fillOpacity={1}
        dot={false}
        activeDot={false}
        isAnimationActive={false}
      />
      <Area
        xAxisId={0}
        yAxisId={0}
        type="linear"
        dataKey="gct"
        name={seriesNames[1]}
        stroke={ORANGE}
        strokeWidth={1}
        fill={ORANGE}
        fillOpacity={1}
        dot={false}
        activeDot={false}
        isAnimationActive={false}
      />
    </ComposedChart>
  );
}

function YLabel({ text, cx, cy }: { text: string; cx: number; cy: number }) {
  return (
    <div
      style={{
        position: 'absolute',
        left: cx,
        top: cy,
        transform: 'translate(-50%, -50%) rotate(-90deg)',
        whiteSpace: 'nowrap',
        fontSize: 39,
        lineHeight: 1,
        fontFamily: FONT,
        color: '#111',
      }}
    >
      {text}
    </div>
  );
}

export default function App() {
  return (
    <div style={{ position: 'absolute', left: 0, top: 0, width: W, height: 845, background: '#fff', fontFamily: FONT, overflow: 'hidden' }}>
      <div style={{ position: 'absolute', left: 0, top: 0 }}>
        <Panel rows={northRows} yDomain={[-12, 12]} yTicks={northTicks} showX={false} height={245} marginTop={2.5} marginBottom={17.5} />
      </div>
      <div style={{ position: 'absolute', left: 0, top: 245 }}>
        <Panel rows={eastRows} yDomain={[-12, 12]} yTicks={eastTicks} showX={false} height={250} marginTop={12} marginBottom={13} />
      </div>
      <div style={{ position: 'absolute', left: 0, top: 495 }}>
        <Panel rows={upRows} yDomain={[-35, 35]} yTicks={upTicks} showX={true} height={350} marginTop={18} marginBottom={107} />
      </div>

      <YLabel text="North [mm]" cx={23} cy={115} />
      <YLabel text="East [mm]" cx={23} cy={369} />
      <YLabel text="up [mm]" cx={23} cy={626} />

      <div
        style={{
          position: 'absolute',
          left: 860.5,
          top: 822,
          transform: 'translate(-50%, -50%)',
          fontSize: 39,
          lineHeight: 1,
          fontFamily: FONT,
          color: '#111',
          whiteSpace: 'nowrap',
        }}
      >
        year
      </div>

      {/* legend */}
      <div
        style={{
          position: 'absolute',
          left: 1182,
          top: 422,
          width: 397,
          height: 48,
          boxSizing: 'border-box',
          border: `1.5px solid ${AXIS}`,
          background: '#fff',
          fontFamily: FONT,
          fontSize: 33,
          color: '#111',
        }}
      >
        <div style={{ position: 'absolute', left: 4, top: 23, width: 55, borderTop: `1.5px solid ${BLUE}` }} />
        <span style={{ position: 'absolute', left: 64, top: '50%', transform: 'translateY(-50%)', lineHeight: 1, whiteSpace: 'nowrap' }}>
          {seriesNames[0]}
        </span>
        <div style={{ position: 'absolute', left: 214, top: 23, width: 54, borderTop: `1.5px solid ${ORANGE}` }} />
        <span style={{ position: 'absolute', left: 274, top: '50%', transform: 'translateY(-50%)', lineHeight: 1, whiteSpace: 'nowrap' }}>
          {seriesNames[1]}
        </span>
      </div>
    </div>
  );
}
